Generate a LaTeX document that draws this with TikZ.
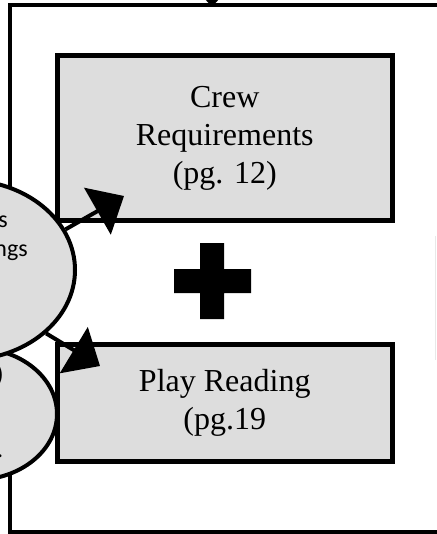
\documentclass[tikz,border=0pt]{standalone}
\usepackage{fontspec}
\setmainfont{Liberation Serif}
\newfontfamily\calib{Carlito}
\usetikzlibrary{arrows.meta,shapes.geometric}
\definecolor{boxfill}{RGB}{221,221,221}
\definecolor{faint}{RGB}{232,232,232}
\begin{document}
\begin{tikzpicture}[x=0.75pt,y=-0.75pt,
  frame/.style={draw=black,line width=2.6pt},
  stepbox/.style={draw=black,fill=boxfill,line width=3.75pt,minimum width=251.6pt,inner sep=0pt,align=center,font=\fontsize{24}{28.5}\selectfont},
  oval/.style={ellipse,draw=black,fill=boxfill,line width=3pt,inner sep=0pt},
  ovaltext/.style={font=\calib\fontsize{18}{22}\selectfont,inner sep=0pt,anchor=base east},
  bigarrow/.style={line width=3pt,-{Triangle[length=23pt,width=40pt]}},
]
\useasboundingbox (0,0) rectangle (436,534);
\draw[frame] (10,5) rectangle (480,532);
\draw[faint,line width=1pt] (435.5,236) -- (435.5,360);
\node[stepbox,minimum height=123.75pt] (crew) at (224.75,138.5) {Crew\\Requirements\\(pg. 12)};
\node[stepbox,minimum height=87.75pt] (play) at (224.75,402.5) {Play Reading\\(pg.19};
\fill (200,243) -- (224,243) -- (224,269) -- (251,269) -- (251,293) -- (224,293) -- (224,319) -- (200,319) -- (200,293) -- (174,293) -- (174,269) -- (200,269) -- cycle;
\node[oval,minimum width=123pt,minimum height=99pt] (lo) at (-25,414) {};
\node[oval,minimum width=165pt,minimum height=135pt] (up) at (-35,270) {};
\node[ovaltext] (ua) at (8,228) {s};
\node[ovaltext] (ub) at (28,257) {ngs};
\node[ovaltext] (la) at (4,382) {)};
\node[ovaltext] (lb) at (3.5,457) {.};
\coordinate (t1) at (124,196);
\coordinate (t2) at (100,366);
\coordinate (t0s) at (212,-40);
\coordinate (t0) at (212,7);
\draw[bigarrow] (up.22) -- (t1);
\draw[bigarrow] (up.-38) -- (t2);
\draw[bigarrow] (t0s) -- (t0);
\end{tikzpicture}
\end{document}
